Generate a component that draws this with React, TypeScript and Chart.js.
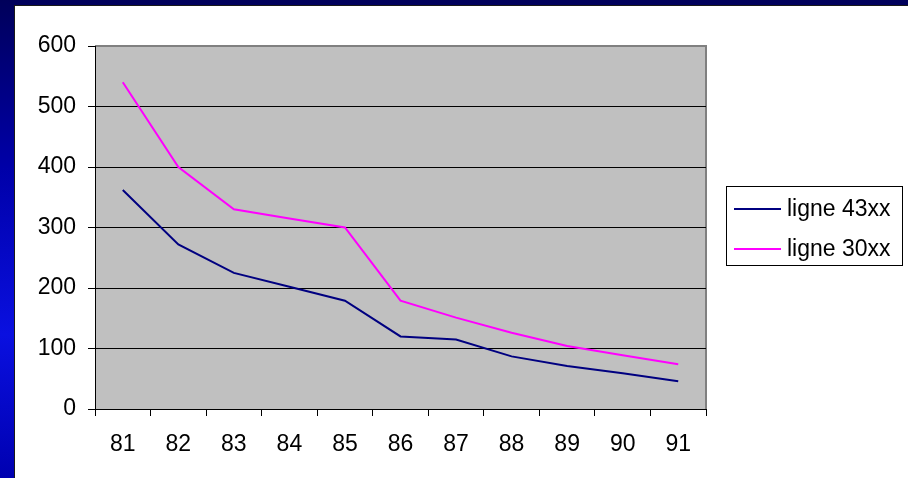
import React, { useEffect, useRef } from "react";
import { Chart, registerables } from "chart.js";

Chart.register(...registerables);

const years = ["81", "82", "83", "84", "85", "86", "87", "88", "89", "90", "91"];
const ligne43 = [362, 272, 225, 202, 179, 120, 115, 87, 71, 59, 46];
const ligne30 = [540, 400, 330, 315, 300, 179, 151, 126, 104, 89, 74];
const seriesNames = ["ligne 43xx", "ligne 30xx"];
const seriesColors = ["#000080", "#FF00FF"];

const FONT = "'Liberation Sans', Arial, sans-serif";

// Grey plot background with a thin frame on top and right.
const plotFrame = {
  id: "plotFrame",
  beforeDraw(chart: any) {
    const { ctx, chartArea: a } = chart;
    ctx.save();
    ctx.fillStyle = "#C0C0C0";
    ctx.fillRect(a.left, a.top, a.right - a.left, a.bottom - a.top);
    ctx.strokeStyle = "#808080";
    ctx.lineWidth = 2;
    ctx.beginPath();
    ctx.moveTo(a.left, a.top);
    ctx.lineTo(a.right, a.top);
    ctx.lineTo(a.right, a.bottom);
    ctx.stroke();
    ctx.restore();
  },
};

// Boxed legend at the right of the plot.
const boxLegend = {
  id: "boxLegend",
  afterDraw(chart: any) {
    const { ctx } = chart;
    const x = 711, y = 180, w = 176, h = 79;
    ctx.save();
    ctx.fillStyle = "#FFFFFF";
    ctx.fillRect(x, y, w, h);
    ctx.strokeStyle = "#000000";
    ctx.lineWidth = 1;
    ctx.strokeRect(x + 0.5, y + 0.5, w, h);
    ctx.font = `23px ${FONT}`;
    ctx.textBaseline = "middle";
    chart.data.datasets.forEach((ds: any, i: number) => {
      const ry = y + 23 + i * 40;
      ctx.strokeStyle = ds.borderColor;
      ctx.lineWidth = 2;
      ctx.beginPath();
      ctx.moveTo(x + 8, ry);
      ctx.lineTo(x + 55, ry);
      ctx.stroke();
      ctx.fillStyle = "#000000";
      ctx.fillText(ds.label, x + 61, ry + 1);
    });
    ctx.restore();
  },
};

export default function App() {
  const canvasRef = useRef<HTMLCanvasElement>(null);

  useEffect(() => {
    const chart = new Chart(canvasRef.current!, {
      type: "line",
      data: {
        labels: years,
        datasets: [
          {
            label: seriesNames[0],
            data: ligne43,
            borderColor: seriesColors[0],
            backgroundColor: seriesColors[0],
            borderWidth: 2,
            pointRadius: 0,
            tension: 0,
          },
          {
            label: seriesNames[1],
            data: ligne30,
            borderColor: seriesColors[1],
            backgroundColor: seriesColors[1],
            borderWidth: 2,
            pointRadius: 0,
            tension: 0,
          },
        ],
      },
      options: {
        responsive: false,
        animation: false,
        devicePixelRatio: 1,
        layout: { padding: { left: 0, right: 202, top: 40, bottom: 0 } },
        plugins: {
          legend: { display: false },
          tooltip: { enabled: false },
        },
        scales: {
          x: {
            offset: true,
            grid: {
              offset: true,
              drawOnChartArea: false,
              drawTicks: true,
              tickLength: 7,
              color: "#000000",
            },
            border: { color: "#000000", width: 1 },
            ticks: {
              color: "#000000",
              font: { family: FONT, size: 23 },
              padding: 15,
              maxRotation: 0,
            },
            afterFit: (s: any) => {
              s.height = 69;
            },
          },
          y: {
            min: 0,
            max: 600,
            ticks: {
              stepSize: 100,
              color: "#000000",
              font: { family: FONT, size: 23 },
              padding: 12,
            },
            grid: {
              color: (c: any) => (c.tick && c.tick.value === 600 ? "rgba(0,0,0,0)" : "#000000"),
              tickColor: "#000000",
              tickLength: 7,
              lineWidth: 1,
            },
            border: { color: "#000000", width: 1 },
            afterFit: (s: any) => {
              s.width = 80;
            },
          },
        },
      },
      plugins: [plotFrame, boxLegend],
    });
    return () => chart.destroy();
  }, []);

  return (
    <div
      style={{
        position: "fixed",
        left: 0,
        top: 0,
        width: 908,
        height: 478,
        overflow: "hidden",
        background:
          "linear-gradient(180deg, #00005a 0%, #0000a8 35%, #0a10e0 70%, #0000b0 100%)",
      }}
    >
      <div
        style={{
          position: "absolute",
          left: 14,
          top: 5,
          width: 894,
          height: 473,
          background: "#FFFFFF",
          borderLeft: "1px solid #1a1a1a",
          borderTop: "1px solid #1a1a1a",
        }}
      >
        <canvas ref={canvasRef} width={893} height={472} style={{ display: "block" }} />
      </div>
    </div>
  );
}
